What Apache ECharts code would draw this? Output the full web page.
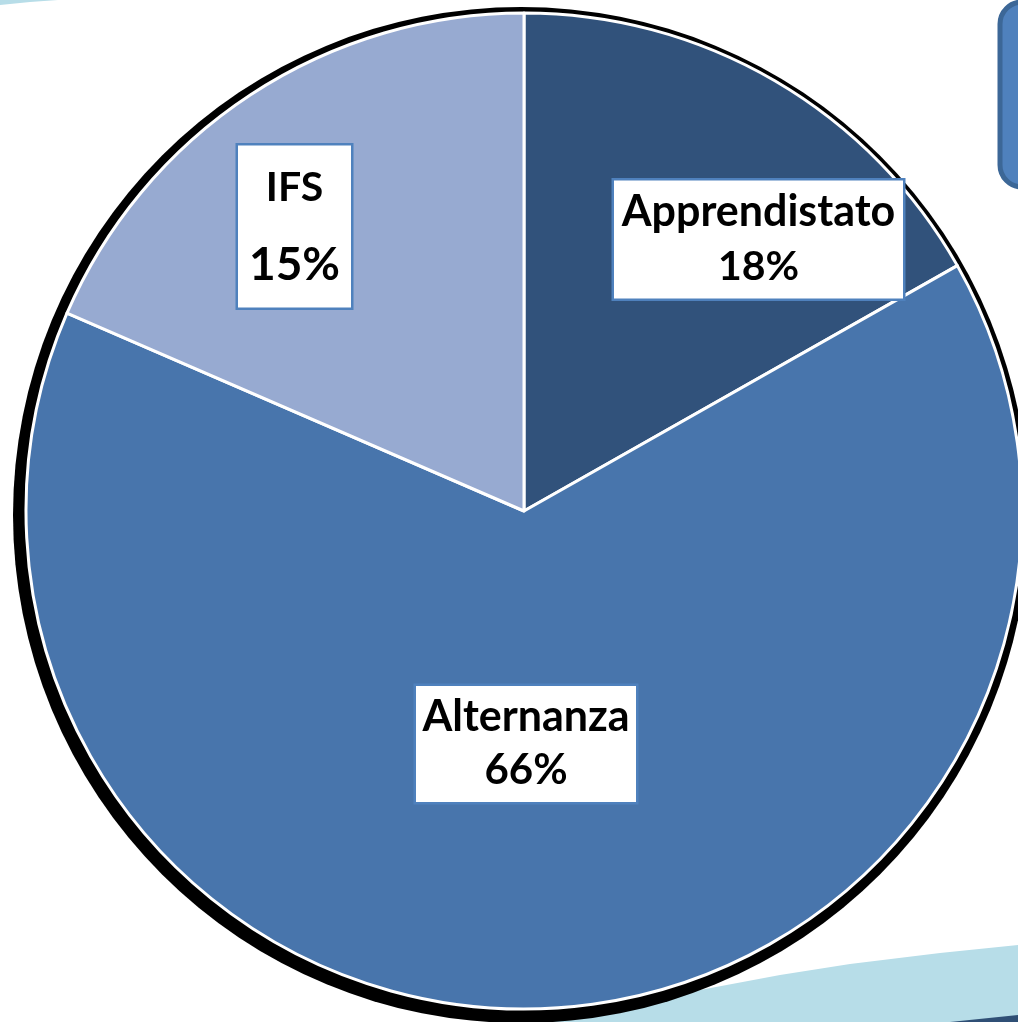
<!DOCTYPE html>
<html><head><meta charset="utf-8">
<script src="https://cdn.jsdelivr.net/npm/echarts@6/dist/echarts.min.js"></script>
<style>html,body{margin:0;padding:0;background:#fff;overflow:hidden}#c{width:1018px;height:1022px}</style>
</head><body><div id="c"></div>
<script>
// ---- data ----
const categories = ['Apprendistato', 'Alternanza', 'IFS'];
const shares = [16.8, 64.7, 18.5];          // slice sizes (from slice angles)
const percentLabels = ['18%', '66%', '15%']; // printed label texts
const sliceColors = ['#31527B', '#4875AC', '#97AAD1'];

// ---- label box layout (not data) ----
const labelBoxes = [
  { cx: 758.5, cy: 239.5, width: 279, lineHeight: 55, pad: [4, 5], nameSize: 43, pctSize: 41 },
  { cx: 526,   cy: 744,   width: 210, lineHeight: 53, pad: [5, 5], nameSize: 43, pctSize: 42 },
  { cx: 294.5, cy: 226.5, width: 103, lineHeight: 77, pad: [4, 5], nameSize: 41, pctSize: 46 }
];

const FONT = 'Lato, "Open Sans", sans-serif';

const chart = echarts.init(document.getElementById('c'), null, { renderer: 'canvas' });

const pieData = categories.map((name, i) => ({
  name: name,
  value: shares[i],
  itemStyle: { color: sliceColors[i] },
  label: {
    formatter: '{n|' + name + '}\n{p|' + percentLabels[i] + '}',
    width: labelBoxes[i].width,
    overflow: 'none',
    padding: labelBoxes[i].pad,
    rich: {
      n: { fontFamily: FONT, fontWeight: 'bold', fontSize: labelBoxes[i].nameSize, color: '#000', lineHeight: labelBoxes[i].lineHeight, align: 'center' },
      p: { fontFamily: FONT, fontWeight: 'bold', fontSize: labelBoxes[i].pctSize, color: '#000', lineHeight: labelBoxes[i].lineHeight, align: 'center' }
    }
  }
}));

chart.setOption({
  animation: false,
  backgroundColor: '#ffffff',
  graphic: [
    { type: 'polygon', z: 0, shape: { points: [[0,0],[58,0],[30,2],[0,5]] }, style: { fill: '#B7DDE8' } },
    { type: 'polygon', z: 0, shape: { points: [[540,1022],[620,1005],[700,990],[780,975],[850,964],[940,953],[1018,945],[1018,1022]] }, style: { fill: '#B7DDE8' } },
    { type: 'polygon', z: 0, shape: { points: [[950,1022],[1018,1015],[1018,1022]] }, style: { fill: '#2F4F75' } },
    { type: 'rect', z: 0, shape: { x: 1000, y: 2, width: 120, height: 185, r: 22 }, style: { fill: '#4F81BD', stroke: '#3C6797', lineWidth: 5 } }
  ],
  series: [
    {
      type: 'pie',
      z: 1,
      silent: true,
      center: [521, 515],
      radius: 508,
      startAngle: 90,
      label: { show: false },
      labelLine: { show: false },
      emphasis: { disabled: true },
      itemStyle: { color: '#000', borderWidth: 0 },
      data: [{ name: 'shadow', value: 1 }]
    },
    {
      type: 'pie',
      z: 2,
      center: [524, 511],
      radius: 498,
      startAngle: 90,
      clockwise: true,
      avoidLabelOverlap: false,
      emphasis: { disabled: true },
      itemStyle: { borderColor: '#ffffff', borderWidth: 3 },
      labelLine: { show: false },
      label: {
        show: true,
        position: 'inside',
        backgroundColor: '#ffffff',
        borderColor: '#4F81BD',
        borderWidth: 2.5,
        align: 'center',
        verticalAlign: 'middle'
      },
      labelLayout: function (params) {
        const b = labelBoxes[params.dataIndex];
        return { x: b.cx, y: b.cy, align: 'center', verticalAlign: 'middle' };
      },
      data: pieData
    }
  ]
});
</script>
</body></html>
